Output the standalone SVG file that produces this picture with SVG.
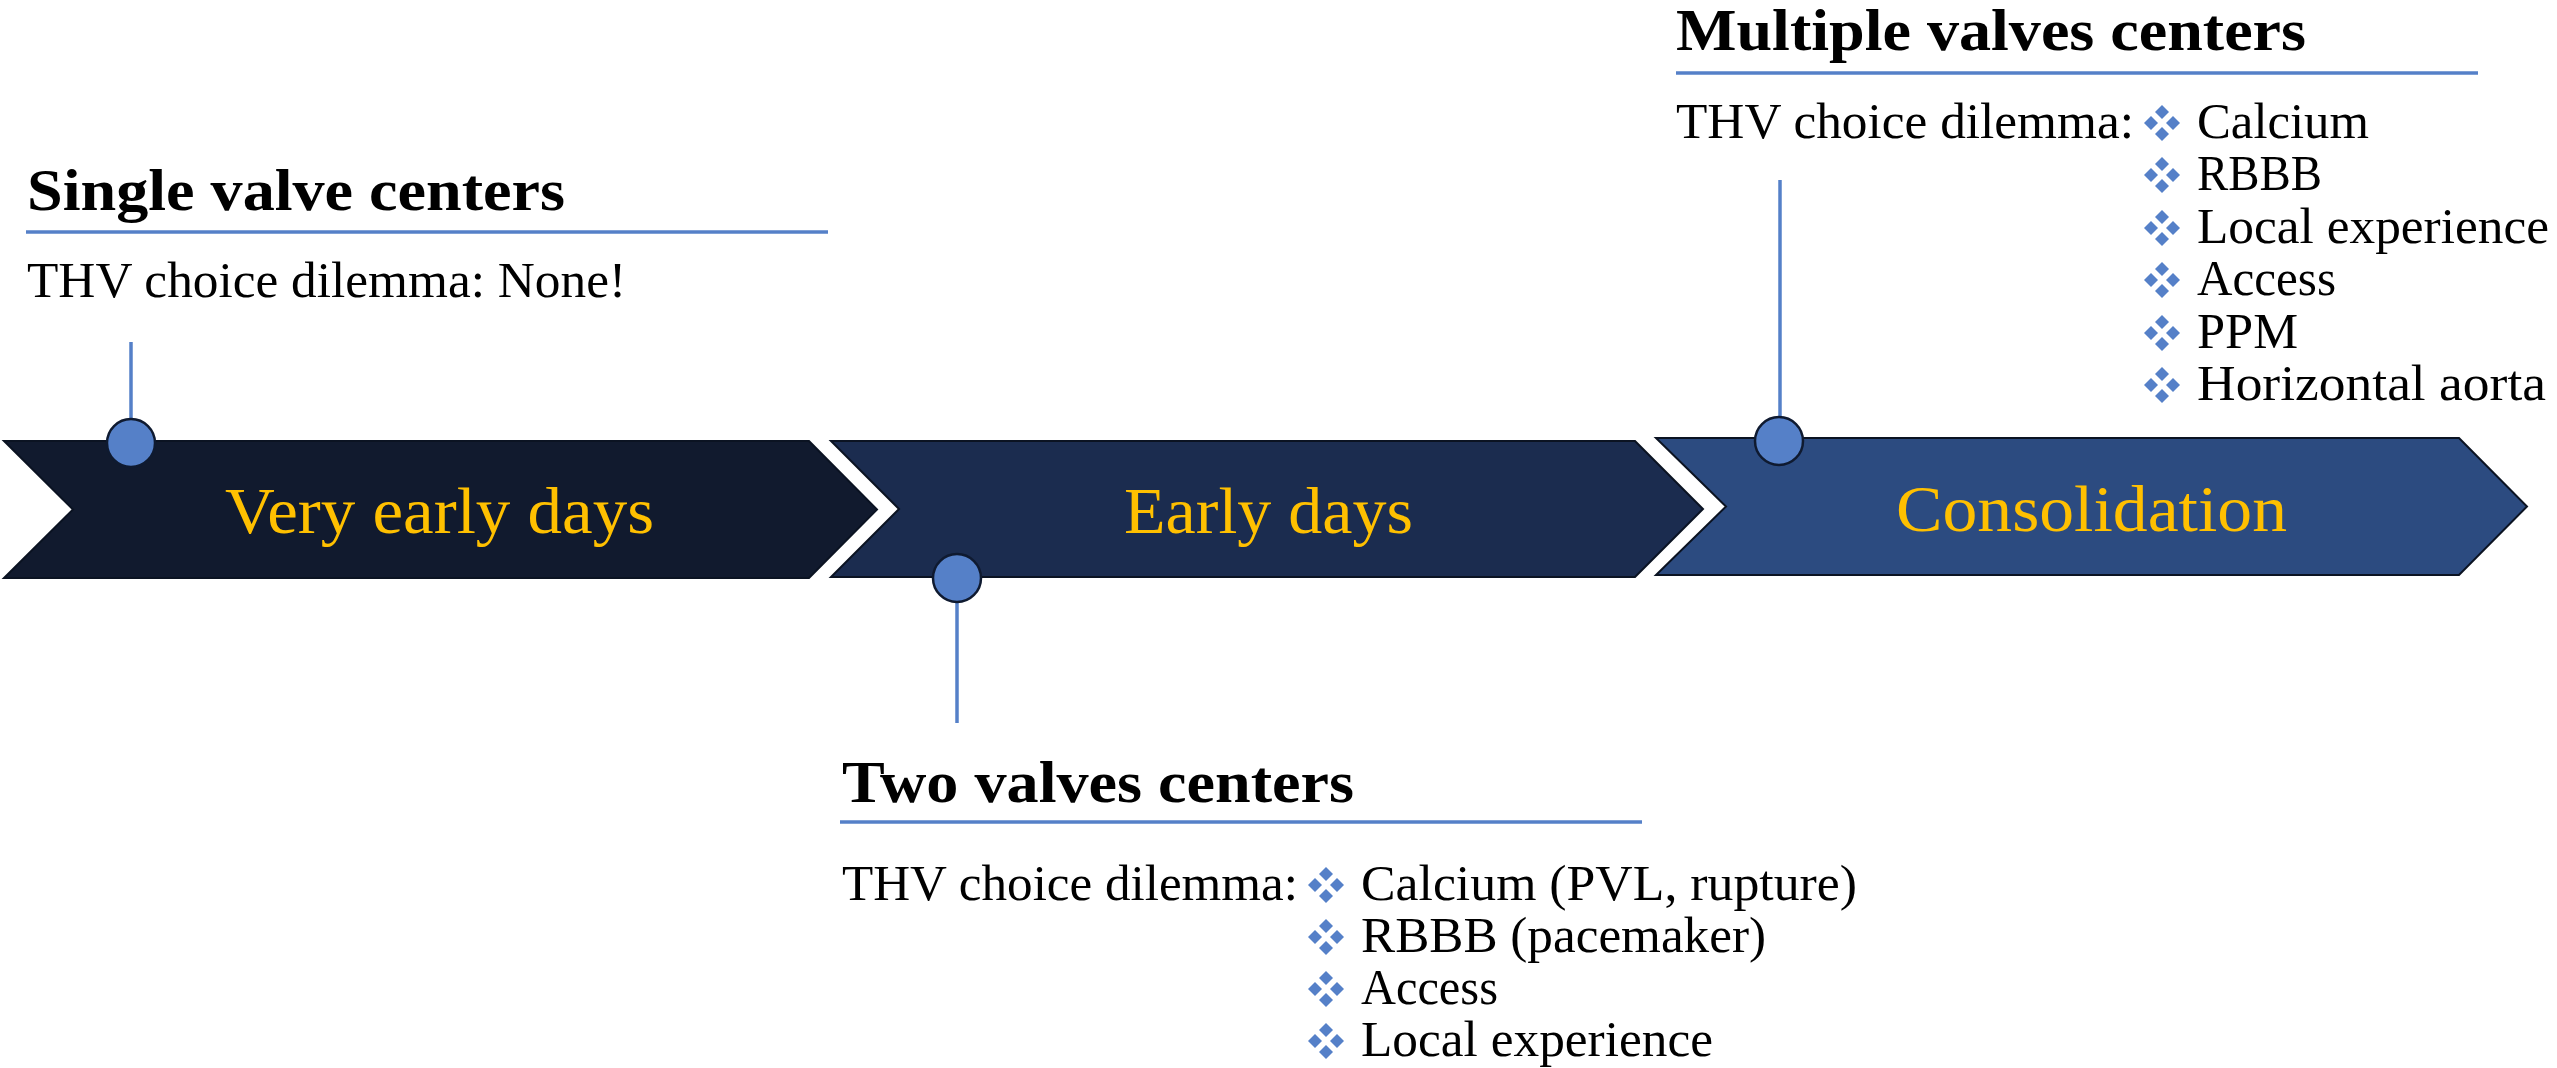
<svg xmlns="http://www.w3.org/2000/svg" xmlns:xlink="http://www.w3.org/1999/xlink" width="2557" height="1068" viewBox="0 0 2557 1068">
  <style>
    .serif { font-family: 'Liberation Serif', 'Tinos', 'Times New Roman', 'DejaVu Serif', serif; }
    .phase { stroke: #0b1322; stroke-width: 2; stroke-linejoin: miter; }
    .label { fill: #ffc000; font-size: 66px; }
    .heading { fill: #000000; font-size: 60px; font-weight: bold; }
    .body { fill: #000000; font-size: 50px; }
    .rule { stroke: #5580c8; stroke-width: 3.5; }
    .stem { stroke: #5580c8; stroke-width: 3.5; }
    .dot { fill: #5580c8; stroke: #0f1a30; stroke-width: 2.5; }
    .bullet { fill: #5580c8; }
  </style>
  <defs>
    <!-- four-diamond list bullet -->
    <symbol id="bullet" overflow="visible">
      <g class="bullet">
        <polygon points="0,-18 7,-11 0,-4 -7,-11"/>
        <polygon points="-11,-7 -4,0 -11,7 -18,0"/>
        <polygon points="11,-7 18,0 11,7 4,0"/>
        <polygon points="0,4 7,11 0,18 -7,11"/>
      </g>
    </symbol>
  </defs>

  <rect x="0" y="0" width="2557" height="1068" fill="#ffffff"/>

  <g class="serif" font-family="Liberation Serif, Tinos, Times New Roman, DejaVu Serif, serif">
  <!-- timeline phases -->
  <g id="phase-very-early">
    <polygon class="phase" fill="#111a2e" points="4,441 809,441 877,509.5 809,578 4,578 73,509.5"/>
    <text class="label" x="439.5" y="533" text-anchor="middle" textLength="429" lengthAdjust="spacingAndGlyphs">Very early days</text>
  </g>
  <g id="phase-early">
    <polygon class="phase" fill="#1b2c4f" points="831,441 1635,441 1703,509 1635,577 831,577 899,509"/>
    <text class="label" x="1268.5" y="533" text-anchor="middle" textLength="289" lengthAdjust="spacingAndGlyphs">Early days</text>
  </g>
  <g id="phase-consolidation">
    <polygon class="phase" fill="#2c4b80" points="1656,438 2459,438 2527,506.5 2459,575 1656,575 1726,506.5"/>
    <text class="label" x="2091.5" y="531" text-anchor="middle" textLength="391" lengthAdjust="spacingAndGlyphs">Consolidation</text>
  </g>

  <!-- stems joining each milestone to its note -->
  <g id="connectors">
    <line class="stem" x1="131" y1="342" x2="131" y2="420"/>
    <line class="stem" x1="957" y1="602" x2="957" y2="723"/>
    <line class="stem" x1="1780" y1="180" x2="1780" y2="418"/>
  </g>

  <!-- milestones -->
  <g id="milestone-single">
    <circle class="dot" cx="131" cy="443" r="24"/>
  </g>
  <g id="milestone-two">
    <circle class="dot" cx="957" cy="578" r="24"/>
  </g>
  <g id="milestone-multiple">
    <circle class="dot" cx="1779" cy="441" r="24"/>
  </g>

  <!-- notes -->
  <g id="note-single">
    <text class="heading" x="27" y="210" textLength="538" lengthAdjust="spacingAndGlyphs">Single valve centers</text>
    <line class="rule" x1="26" y1="232" x2="828" y2="232"/>
    <text class="body" x="27" y="297" textLength="599" lengthAdjust="spacingAndGlyphs">THV choice dilemma: None!</text>
  </g>

  <g id="note-two">
    <text class="heading" x="842" y="802" textLength="512" lengthAdjust="spacingAndGlyphs">Two valves centers</text>
    <line class="rule" x1="840" y1="822" x2="1642" y2="822"/>
    <text class="body" x="842" y="900" textLength="456" lengthAdjust="spacingAndGlyphs">THV choice dilemma:</text>
    <use xlink:href="#bullet" href="#bullet" x="1326" y="885"/>
    <text class="body" x="1361" y="900" textLength="496" lengthAdjust="spacingAndGlyphs">Calcium (PVL, rupture)</text>
    <use xlink:href="#bullet" href="#bullet" x="1326" y="937"/>
    <text class="body" x="1361" y="952" textLength="405" lengthAdjust="spacingAndGlyphs">RBBB (pacemaker)</text>
    <use xlink:href="#bullet" href="#bullet" x="1326" y="989"/>
    <text class="body" x="1361" y="1004" textLength="137" lengthAdjust="spacingAndGlyphs">Access</text>
    <use xlink:href="#bullet" href="#bullet" x="1326" y="1041"/>
    <text class="body" x="1361" y="1056" textLength="352" lengthAdjust="spacingAndGlyphs">Local experience</text>
  </g>

  <g id="note-multiple">
    <text class="heading" x="1676" y="50" textLength="630" lengthAdjust="spacingAndGlyphs">Multiple valves centers</text>
    <line class="rule" x1="1676" y1="73" x2="2478" y2="73"/>
    <text class="body" x="1676" y="138" textLength="458" lengthAdjust="spacingAndGlyphs">THV choice dilemma:</text>
    <use xlink:href="#bullet" href="#bullet" x="2162" y="123"/>
    <text class="body" x="2197" y="138" textLength="172" lengthAdjust="spacingAndGlyphs">Calcium</text>
    <use xlink:href="#bullet" href="#bullet" x="2162" y="175"/>
    <text class="body" x="2197" y="190" textLength="125" lengthAdjust="spacingAndGlyphs">RBBB</text>
    <use xlink:href="#bullet" href="#bullet" x="2162" y="228"/>
    <text class="body" x="2197" y="243" textLength="352" lengthAdjust="spacingAndGlyphs">Local experience</text>
    <use xlink:href="#bullet" href="#bullet" x="2162" y="280"/>
    <text class="body" x="2197" y="295" textLength="139" lengthAdjust="spacingAndGlyphs">Access</text>
    <use xlink:href="#bullet" href="#bullet" x="2162" y="333"/>
    <text class="body" x="2197" y="348" textLength="101" lengthAdjust="spacingAndGlyphs">PPM</text>
    <use xlink:href="#bullet" href="#bullet" x="2162" y="385"/>
    <text class="body" x="2197" y="400" textLength="349" lengthAdjust="spacingAndGlyphs">Horizontal aorta</text>
  </g>
  </g>
</svg>
